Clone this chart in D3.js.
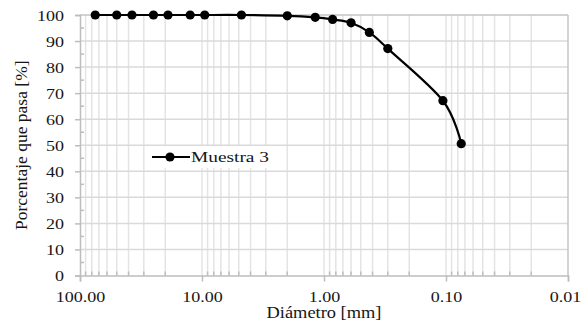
<!DOCTYPE html>
<html>
<head>
<meta charset="utf-8">
<script src="https://cdn.jsdelivr.net/npm/d3@7"></script>
<style>
  html, body { margin: 0; padding: 0; background: #fff; }
  svg { display: block; }
</style>
</head>
<body>
<svg id="chart" width="582" height="327"></svg>
<script>
// Granulometric curve: sieve opening (mm) vs. percent passing
const diametros = [75, 50, 37.5, 25, 19, 12.5, 9.5, 4.75, 2.0, 1.18, 0.85, 0.6, 0.425, 0.3, 0.106, 0.075];
const pasa = [100, 100, 100, 100, 100, 100, 100, 100, 99.7, 99.1, 98.3, 97.0, 93.3, 87.1, 67.1, 50.6];
const xTicks = [100, 10, 1, 0.1, 0.01];
const yTicks = [0, 10, 20, 30, 40, 50, 60, 70, 80, 90, 100];
const serie = "Muestra 3";
const xTitle = "Diámetro [mm]";
const yTitle = "Porcentaje que pasa [%]";

const FONT = '"Liberation Serif", "Times New Roman", serif';
const TXT = "#161616";

const svg = d3.select("#chart");
const pLeft = 80, pRight = 568, pTop = 15, pBottom = 275.5;

const x = d3.scaleLog().domain([100, 0.01]).range([pLeft, pRight]);
const y = d3.scaleLinear().domain([0, 100]).range([pBottom, pTop]);

// minor log values between the decades
const minor = [];
for (let e = -2; e < 2; e++) {
  for (let k = 2; k <= 9; k++) minor.push(k * Math.pow(10, e));
}

const grid = svg.append("g");
// vertical grid at every log step
grid.selectAll("line.v")
  .data(minor.concat([0.1, 1, 10]))
  .join("line")
  .attr("x1", d => x(d)).attr("x2", d => x(d))
  .attr("y1", pTop).attr("y2", pBottom)
  .attr("stroke", "#e4e4e4").attr("stroke-width", 1.5);
// horizontal grid
grid.selectAll("line.h")
  .data(yTicks.filter(d => d > 0 && d < 100))
  .join("line")
  .attr("x1", pLeft).attr("x2", pRight)
  .attr("y1", d => y(d)).attr("y2", d => y(d))
  .attr("stroke", "#dadada").attr("stroke-width", 1.5);
// top and right frame
grid.append("line").attr("x1", pLeft).attr("x2", pRight).attr("y1", y(100)).attr("y2", y(100))
  .attr("stroke", "#c4c4c4").attr("stroke-width", 1.5);
grid.append("line").attr("x1", x(0.01)).attr("x2", x(0.01)).attr("y1", pTop).attr("y2", pBottom)
  .attr("stroke", "#c4c4c4").attr("stroke-width", 1.5);

const axisColor = "#bdbdbd";

// Bottom axis
const xAxis = svg.append("g").attr("transform", `translate(0,${pBottom})`)
  .call(d3.axisBottom(x).tickValues(xTicks).tickSize(6).tickFormat(d3.format(".2f")));
xAxis.select(".domain").attr("stroke", axisColor).attr("stroke-width", 1.5);
xAxis.selectAll(".tick line").attr("stroke", axisColor).attr("stroke-width", 1.5);
xAxis.selectAll(".tick text")
  .style("font-family", FONT).style("font-size", "15px").attr("fill", TXT)
  .attr("y", 0).attr("dy", 0)
  // the last label sits at the window edge, so it is nudged inward
  .attr("transform", d => `translate(${d === 0.01 ? -3 : 0},26) scale(1.2,1)`);
xAxis.selectAll(".minor")
  .data(minor)
  .join("line")
  .attr("class", "minor")
  .attr("x1", d => x(d)).attr("x2", d => x(d))
  .attr("y1", 0).attr("y2", -4)
  .attr("stroke", axisColor).attr("stroke-width", 1.5);

// Left axis
const yAxis = svg.append("g").attr("transform", `translate(${pLeft},0)`)
  .call(d3.axisLeft(y).tickValues(yTicks).tickSize(5).tickPadding(0));
yAxis.select(".domain").attr("stroke", axisColor).attr("stroke-width", 1.5);
yAxis.selectAll(".tick line").attr("stroke", axisColor).attr("stroke-width", 1.5);
yAxis.selectAll(".tick text")
  .style("font-family", FONT).style("font-size", "15px").attr("fill", TXT)
  .attr("x", 0).attr("dy", 0)
  .attr("text-anchor", "end")
  .attr("transform", "translate(-16,5) scale(1.2,1)");
yAxis.selectAll(".minor")
  .data(d3.range(5, 100, 10))
  .join("line")
  .attr("class", "minor")
  .attr("x1", 0).attr("x2", 4)
  .attr("y1", d => y(d)).attr("y2", d => y(d))
  .attr("stroke", axisColor).attr("stroke-width", 1.5);

// Axis titles
svg.append("text")
  .attr("transform", `translate(${(pLeft + pRight) / 2},318) scale(1.15,1)`)
  .attr("text-anchor", "middle")
  .style("font-family", FONT).style("font-size", "16px").attr("fill", TXT)
  .text(xTitle);
svg.append("text")
  .attr("transform", `translate(27,${(pTop + pBottom) / 2}) rotate(-90)`)
  .attr("text-anchor", "middle")
  .style("font-family", FONT).style("font-size", "17.5px").attr("fill", TXT)
  .text(yTitle);

// Curve
const pts = diametros.map((d, i) => [x(d), y(pasa[i])]);
svg.append("path")
  .attr("d", d3.line().curve(d3.curveCardinal.tension(0))(pts))
  .attr("fill", "none").attr("stroke", "#000").attr("stroke-width", 2.2);
svg.append("g").selectAll("circle")
  .data(pts)
  .join("circle")
  .attr("cx", d => d[0]).attr("cy", d => d[1]).attr("r", 4.6)
  .attr("fill", "#000");

// Legend
const lg = svg.append("g").attr("transform", "translate(150,146)");
lg.append("rect").attr("x", 0).attr("y", 0).attr("width", 124).attr("height", 22).attr("fill", "#fff");
lg.append("line").attr("x1", 2).attr("x2", 40).attr("y1", 11).attr("y2", 11)
  .attr("stroke", "#000").attr("stroke-width", 2.2);
lg.append("circle").attr("cx", 20).attr("cy", 11).attr("r", 4.6).attr("fill", "#000");
lg.append("text").attr("transform", "translate(41,16) scale(1.25,1)")
  .style("font-family", FONT).style("font-size", "15.5px").attr("fill", TXT)
  .text(serie);
</script>
</body>
</html>
